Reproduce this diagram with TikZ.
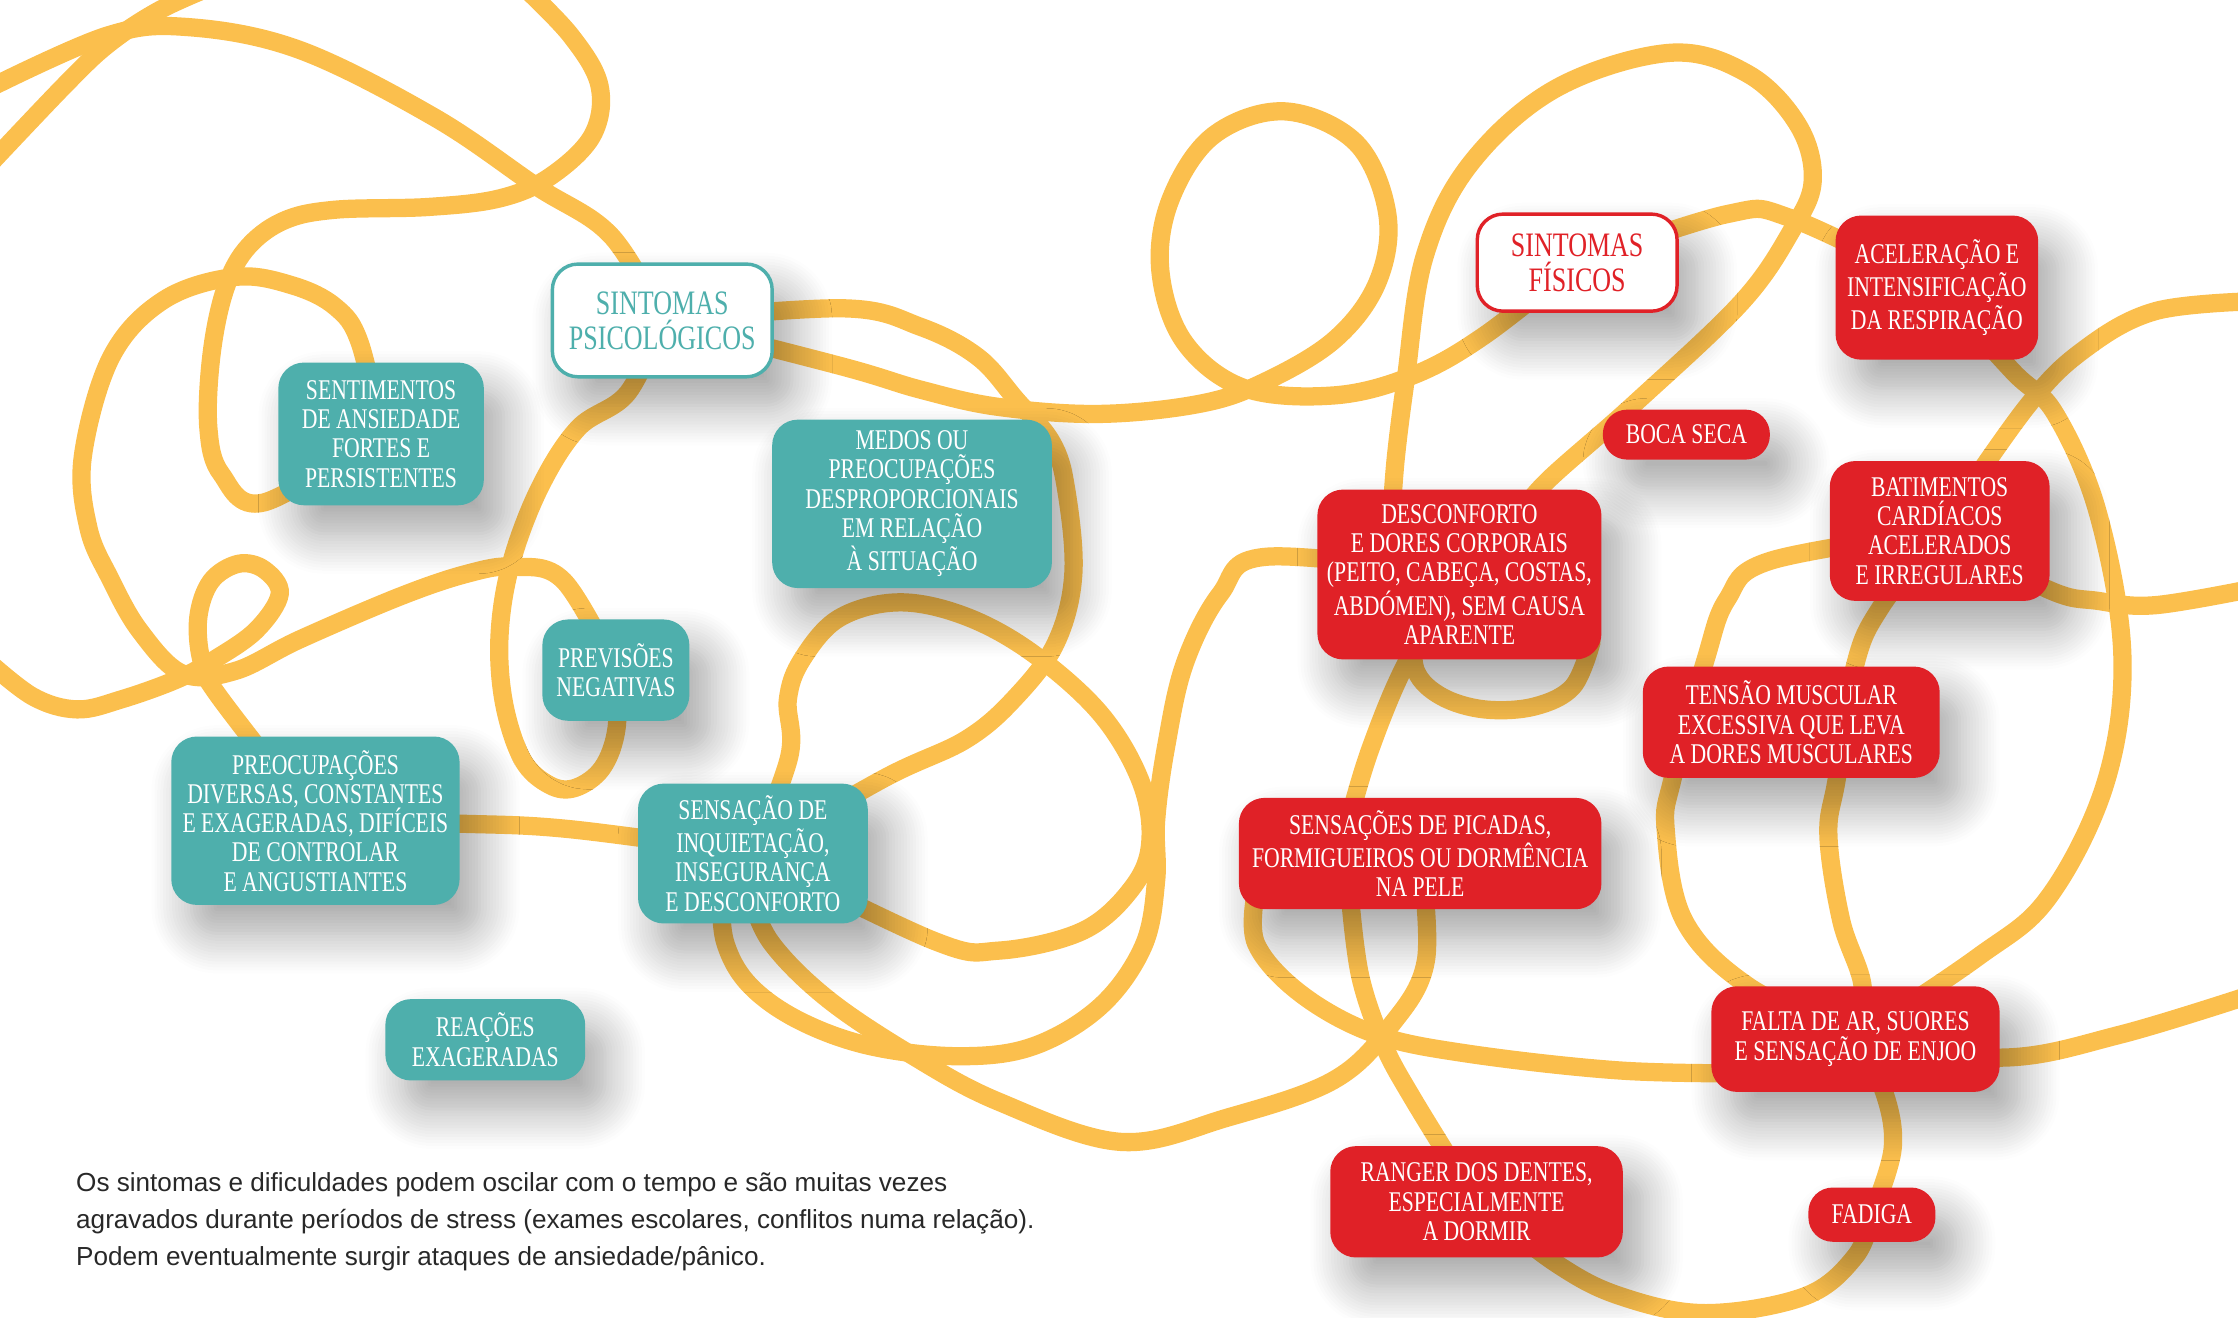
\documentclass[tikz,border=0pt]{standalone}
\usepackage{fontspec}
\setmainfont{Liberation Serif}
\newfontfamily\boxfont[FakeStretch=0.76]{Liberation Serif}
\newfontfamily\notefont{Liberation Sans}
\usepackage{xcolor}
\usepackage{tikz}
\usetikzlibrary{shadows.blur}

\definecolor{ropeyellow}{RGB}{251,191,77}
\definecolor{psiteal}{RGB}{78,175,172}
\definecolor{fisred}{RGB}{224,33,39}
\definecolor{notegray}{RGB}{40,40,40}

\pgfdeclarelayer{paper}
\pgfdeclarelayer{ropes}
\pgfsetlayers{paper,ropes,main}

\begin{document}
\begin{tikzpicture}[
    x=0.5pt, y=-0.5pt,
    softshadow/.style={blur shadow={shadow xshift=7pt, shadow yshift=-10pt, shadow blur radius=14pt, shadow blur steps=14, shadow opacity=36}},
    box/.style={rectangle, rounded corners=9pt, align=center, inner sep=2pt, text=white,
      font=\boxfont\fontsize{10}{10.25}\selectfont, softshadow},
    psibox/.style={box, fill=psiteal},
    fisbox/.style={box, fill=fisred},
    headbox/.style={box, fill=white, line width=1.2pt, font=\boxfont\fontsize{12}{12.3}\selectfont},
    rope/.style={draw=ropeyellow, line width=6.4pt, line cap=round}
]

\begin{pgfonlayer}{paper}
\fill[white] (0,0) rectangle (1568,923);
\end{pgfonlayer}
\useasboundingbox (0,0) rectangle (1568,923);
\path[softshadow, fill=white] (-300,-300) rectangle (-280,-280);

\node[headbox, draw=psiteal, text=psiteal, minimum width=77pt, minimum height=39.5pt] (psi) at (464,224.5) {SINTOMAS\\PSICOLÓGICOS};
\node[psibox, minimum width=72pt, minimum height=50pt] (sent) at (267,304) {SENTIMENTOS\\DE ANSIEDADE\\FORTES E\\PERSISTENTES};
\node[psibox, minimum width=98pt, minimum height=59pt] (medos) at (639,353) {MEDOS OU\\PREOCUPAÇÕES\\DESPROPORCIONAIS\\EM RELAÇÃO\\À SITUAÇÃO};
\node[psibox, minimum width=51.5pt, minimum height=35.5pt] (prev) at (431.5,469.5) {PREVISÕES\\NEGATIVAS};
\node[psibox, minimum width=101pt, minimum height=59pt] (preoc) at (221,575) {PREOCUPAÇÕES\\DIVERSAS, CONSTANTES\\E EXAGERADAS, DIFÍCEIS\\DE CONTROLAR\\E ANGUSTIANTES};
\node[psibox, minimum width=80.5pt, minimum height=49pt] (inq) at (527.5,598) {SENSAÇÃO DE\\INQUIETAÇÃO,\\INSEGURANÇA\\E DESCONFORTO};
\node[psibox, minimum width=70pt, minimum height=28.5pt] (reac) at (340,728.5) {REAÇÕES\\EXAGERADAS};

\node[headbox, draw=fisred, text=fisred, minimum width=70pt, minimum height=34pt] (fis) at (1105,184) {SINTOMAS\\FÍSICOS};
\node[fisbox, minimum width=71pt, minimum height=50.5pt] (resp) at (1357,201.5) {ACELERAÇÃO E\\INTENSIFICAÇÃO\\DA RESPIRAÇÃO};
\node[fisbox, rounded corners=8.5pt, minimum width=58.5pt, minimum height=17.5pt] (boca) at (1181.5,304.5) {BOCA SECA};
\node[fisbox, minimum width=99.5pt, minimum height=59.5pt] (desc) at (1022.5,402.5) {DESCONFORTO\\E DORES CORPORAIS\\(PEITO, CABEÇA, COSTAS,\\ABDÓMEN), SEM CAUSA\\APARENTE};
\node[fisbox, minimum width=77pt, minimum height=49pt] (bat) at (1359,372) {BATIMENTOS\\CARDÍACOS\\ACELERADOS\\E IRREGULARES};
\node[fisbox, minimum width=104pt, minimum height=39pt] (tens) at (1255,506) {TENSÃO MUSCULAR\\EXCESSIVA QUE LEVA\\A DORES MUSCULARES};
\node[fisbox, minimum width=127pt, minimum height=39pt] (pic) at (995,598) {SENSAÇÕES DE PICADAS,\\FORMIGUEIROS OU DORMÊNCIA\\NA PELE};
\node[fisbox, minimum width=101pt, minimum height=37pt] (falta) at (1300,728) {FALTA DE AR, SUORES\\E SENSAÇÃO DE ENJOO};
\node[fisbox, minimum width=102.5pt, minimum height=39pt] (ranger) at (1034.5,842) {RANGER DOS DENTES,\\ESPECIALMENTE\\A DORMIR};
\node[fisbox, rounded corners=8.5pt, minimum width=44.5pt, minimum height=19pt] (fadiga) at (1311.5,851) {FADIGA};

\node[anchor=west, align=left, inner sep=0pt, text=notegray, font=\notefont\fontsize{9.15}{13}\selectfont] (note) at (53,856) {Os sintomas e dificuldades podem oscilar com o tempo e são muitas vezes\\agravados durante períodos de stress (exames escolares, conflitos numa relação).\\Podem eventualmente surgir ataques de ansiedade/pânico.};

\begin{pgfonlayer}{ropes}
\clip (0,0) rectangle (1568,923);
\draw[rope] plot[smooth, tension=0.6] coordinates {(-10,118) (47,58) (77,30) (112,7) (150,-10)};
\draw[rope] plot[smooth, tension=0.6] coordinates {(-10,63) (75,25) (132,19) (210,35) (304,82) (375,130) (428,165) (psi.center)};
\draw[rope] plot[smooth, tension=0.6] coordinates {(366,-10) (400,25) (420,60) (415,95) (385,124) (350,139) (300,145) (234,147) (198,155) (172,175) (157,205) (148,250) (146,300) (155,332) (185,352) (sent.center)};
\draw[rope] plot[smooth, tension=0.6] coordinates {(sent.center) (252,240) (235,215) (205,200) (165,194) (115,210) (78,250) (58,320) (62,370) (77,405) (98,442) (128,472) (165,470) (210,448) (280,418) (327,402) (360,397) (395,407) (prev.center)};
\draw[rope] plot[smooth, tension=0.6] coordinates {(-10,462) (23,488) (54,497) (85,490) (124,476) (152,461) (180,441) (196,416) (185,399) (167,395) (148,407) (139,432) (141,462) (152,486) (preoc.center)};
\draw[rope] plot[smooth, tension=0.6] coordinates {(psi.center) (440,275) (405,300) (378,342) (358,395) (350,445) (353,492) (366,532) (385,550) (403,552) (422,538) (432,510) (prev.center)};
\draw[rope] plot[smooth, tension=0.6] coordinates {(psi.center) (591,216) (645,229) (685,250) (712,280) (737,310) (747,343) (752,402) (740,450) (712,488) (677,518) (620,545) (inq.center)};
\draw[rope] plot[smooth, tension=0.6] coordinates {(psi.center) (591,257) (645,273) (699,285) (770,290) (840,283) (885,268) (935,238) (965,198) (972,150) (950,100) (900,78) (850,95) (820,140) (813,190) (830,240) (872,272) (935,277) (990,263) (1040,235) (fis.center)};
\draw[rope] plot[smooth, tension=0.6] coordinates {(inq.center) (553,530) (552,490) (562,462) (588,433) (630,422) (677,432) (724,458) (771,500) (799,547) (806,589) (794,621) (759,652) (700,666) (654,659) (inq.center)};
\draw[rope] plot[smooth, tension=0.6] coordinates {(preoc.center) (320,577) (400,581) (inq.center)};
\draw[rope] plot[smooth, tension=0.6] coordinates {(505,625) (508,660) (525,690) (560,715) (610,733) (672,740) (724,733) (771,705) (801,663) (810,617) (810,575) (817,523) (830,465) (855,416) (888,390) (desc.center)};
\draw[rope] plot[smooth, tension=0.6] coordinates {(525,625) (540,660) (580,700) (640,740) (700,772) (785,800) (860,783) (934,757) (974,719) (999,673) (pic.center)};
\draw[rope] plot[smooth, tension=0.6] coordinates {(desc.center) (985,465) (960,525) (945,575)};
\draw[rope] plot[smooth, tension=0.6] coordinates {(990,440) (992,470) (1010,488) (1040,497) (1075,495) (1102,481) (1115,450)};
\draw[rope] plot[smooth, tension=0.6] coordinates {(975,360) (978,320) (985,265) (998,180) (1030,115) (1090,62) (1170,37) (1225,52) (1260,88) (1270,127) (1255,162) (1220,212) (1145,283) (1085,336) (1065,360)};
\draw[rope] plot[smooth, tension=0.6] coordinates {(fis.center) (1210,150) (1255,153) (resp.center)};
\draw[rope] plot[smooth, tension=0.6] coordinates {(resp.center) (1410,260) (1440,290) (1470,360) (1487,460) (1475,549) (1435,629) (1385,671) (falta.center)};
\draw[rope] plot[smooth, tension=0.6] coordinates {(1580,211) (1510,218) (1460,245) (1420,285) (bat.center)};
\draw[rope] plot[smooth, tension=0.6] coordinates {(bat.center) (1435,413) (1470,421) (1510,424) (1580,412)};
\draw[rope] plot[smooth, tension=0.6] coordinates {(bat.center) (1240,393) (1210,420) (1195,462) (1172,545) (1167,581) (1180,645) (1225,691) (falta.center)};
\draw[rope] plot[smooth, tension=0.6] coordinates {(bat.center) (1318,425) (1300,465) (1287,545) (1281,585) (1290,645) (1305,691) (falta.center)};
\draw[rope] plot[smooth, tension=0.6] coordinates {(falta.center) (1320,765) (1326,805) (fadiga.center)};
\draw[rope] plot[smooth, tension=0.6] coordinates {(falta.center) (1402,741) (1485,725) (1580,696)};
\draw[rope] plot[smooth, tension=0.6] coordinates {(880,625) (880,661) (911,696) (962,724) (1027,738) (1135,750) (1230,752)};
\draw[rope] plot[smooth, tension=0.6] coordinates {(946,630) (953,684) (969,731) (990,770) (ranger.center)};
\draw[rope] plot[smooth, tension=0.6] coordinates {(ranger.center) (1090,885) (1135,908) (1195,920) (1265,908) (1300,880) (fadiga.center)};
\end{pgfonlayer}

\end{tikzpicture}
\end{document}
